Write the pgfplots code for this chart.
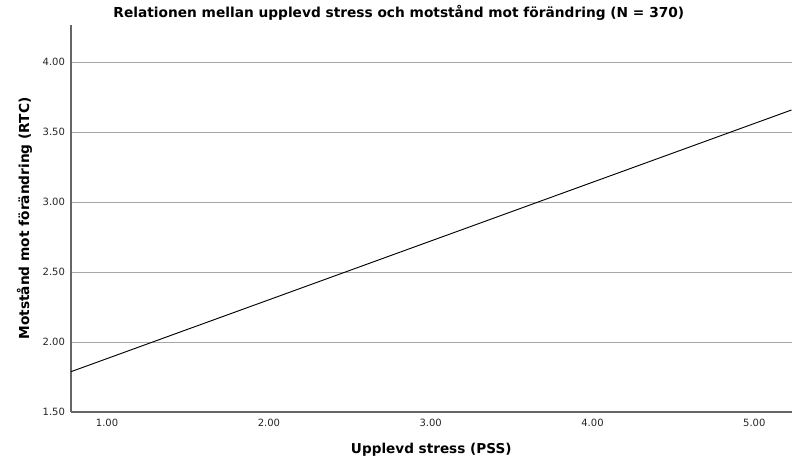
\documentclass[border=0pt]{standalone}
\usepackage{pgfplots}
\pgfplotsset{compat=1.18}
\usepackage{fontspec}
\setmainfont{DejaVu Sans}
\begin{document}
\begin{tikzpicture}[x=1pt,y=1pt]
\path[use as bounding box] (0,0) rectangle (600,352.5);
\begin{axis}[
  at={(53.25pt,43.5pt)}, anchor=south west,
  scale only axis, width=540.4pt, height=290.25pt,
  xmin=0.777, xmax=5.23, ymin=1.5, ymax=4.264,
  axis lines*=left,
  axis line style={draw=gray!80!black, line width=0.8pt, -},
  xtick={1,2,3,4,5}, ytick={1.5,2,2.5,3,3.5,4},
  major tick length=0pt,
  ymajorgrids, grid style={draw=gray!70, line width=0.6pt},
  /pgf/number format/assume math mode=true,
  /pgf/number format/.cd, fixed, fixed zerofill, precision=2, /pgfplots/.cd,
  ticklabel style={font=\fontsize{7.5}{8.5}\selectfont, text=black!85},
  yticklabel style={xshift=-1pt},
  xticklabel style={yshift=-2pt},
  xlabel={\bfseries Upplevd stress (PSS)},
  ylabel={\bfseries Motstånd mot förändring (RTC)},
  xlabel style={font=\fontsize{10.2}{12}\selectfont, at={(0.5,0)}, yshift=-20pt},
  ylabel style={font=\fontsize{10.3}{12}\selectfont, yshift=1pt},
  title={\bfseries Relationen mellan upplevd stress och motstånd mot förändring (N = 370)},
  title style={font=\fontsize{10.3}{12}\selectfont, at={(0.455,1)}, yshift=-6pt},
  clip=true,
]
\addplot[black, line width=0.7pt] coordinates {(0.777,1.788) (5.23,3.657)};
\end{axis}
\end{tikzpicture}
\end{document}
